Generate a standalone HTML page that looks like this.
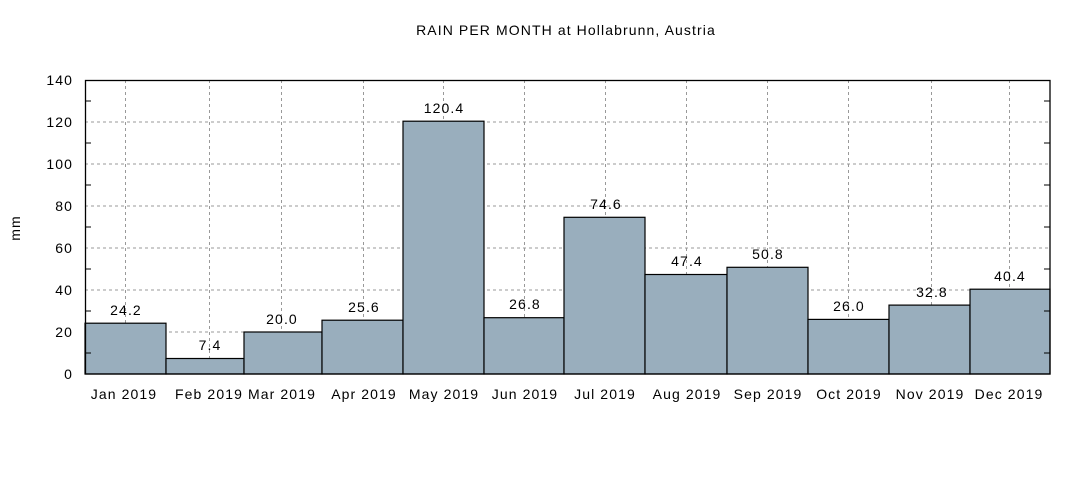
<!DOCTYPE html>
<html><head><style>body{margin:0;background:#fff}</style></head><body>
<svg width="1080" height="480" xmlns="http://www.w3.org/2000/svg" font-family="Liberation Sans, sans-serif" font-size="14" letter-spacing="1.1">
<rect width="1080" height="480" fill="#fff"/>
<text x="566" y="35" text-anchor="middle">RAIN PER MONTH at Hollabrunn, Austria</text>
<text transform="translate(20,228) rotate(-90)" text-anchor="middle">mm</text>
<g stroke="#999" stroke-dasharray="3,3" stroke-width="1">
<line x1="85" x2="1050" y1="332" y2="332"/><line x1="85" x2="1050" y1="290" y2="290"/>
<line x1="85" x2="1050" y1="248" y2="248"/><line x1="85" x2="1050" y1="206" y2="206"/>
<line x1="85" x2="1050" y1="164" y2="164"/><line x1="85" x2="1050" y1="122" y2="122"/>
<line x1="125.5" x2="125.5" y1="80" y2="374"/><line x1="209.5" x2="209.5" y1="80" y2="374"/>
<line x1="281.5" x2="281.5" y1="80" y2="374"/><line x1="363.5" x2="363.5" y1="80" y2="374"/>
<line x1="443.5" x2="443.5" y1="80" y2="374"/><line x1="524.5" x2="524.5" y1="80" y2="374"/>
<line x1="605.5" x2="605.5" y1="80" y2="374"/><line x1="686.5" x2="686.5" y1="80" y2="374"/>
<line x1="767.5" x2="767.5" y1="80" y2="374"/><line x1="848.5" x2="848.5" y1="80" y2="374"/>
<line x1="931.5" x2="931.5" y1="80" y2="374"/><line x1="1009.5" x2="1009.5" y1="80" y2="374"/>
</g>
<g fill="#99aebd" stroke="#000" stroke-width="1.2">
<rect x="85" y="323.2" width="81" height="50.8"/>
<rect x="166" y="358.5" width="78" height="15.5"/>
<rect x="244" y="332" width="78" height="42"/>
<rect x="322" y="320.2" width="81" height="53.8"/>
<rect x="403" y="121.2" width="81" height="252.8"/>
<rect x="484" y="317.7" width="80" height="56.3"/>
<rect x="564" y="217.3" width="81" height="156.7"/>
<rect x="645" y="274.5" width="82" height="99.5"/>
<rect x="727" y="267.3" width="81" height="106.7"/>
<rect x="808" y="319.4" width="81" height="54.6"/>
<rect x="889" y="305.1" width="81" height="68.9"/>
<rect x="970" y="289.2" width="80" height="84.8"/>
</g>
<g stroke="#000" stroke-width="1">
<line x1="85" x2="91" y1="353" y2="353"/><line x1="85" x2="91" y1="311" y2="311"/><line x1="85" x2="91" y1="269" y2="269"/><line x1="85" x2="91" y1="227" y2="227"/><line x1="85" x2="91" y1="185" y2="185"/><line x1="85" x2="91" y1="143" y2="143"/><line x1="85" x2="91" y1="101" y2="101"/>
<line x1="1044" x2="1050" y1="353" y2="353"/><line x1="1044" x2="1050" y1="311" y2="311"/><line x1="1044" x2="1050" y1="269" y2="269"/><line x1="1044" x2="1050" y1="227" y2="227"/><line x1="1044" x2="1050" y1="185" y2="185"/><line x1="1044" x2="1050" y1="143" y2="143"/><line x1="1044" x2="1050" y1="101" y2="101"/>
</g>
<rect x="85.5" y="80.5" width="964.5" height="293.5" fill="none" stroke="#000" stroke-width="1.3"/>
<g text-anchor="end">
<text x="73" y="379">0</text><text x="73" y="337">20</text><text x="73" y="295">40</text><text x="73" y="253">60</text><text x="73" y="211">80</text><text x="73" y="169">100</text><text x="73" y="127">120</text><text x="73" y="85">140</text>
</g>
<g text-anchor="middle">
<text x="124" y="399">Jan 2019</text><text x="209" y="399">Feb 2019</text><text x="282" y="399">Mar 2019</text><text x="364" y="399">Apr 2019</text><text x="444" y="399">May 2019</text><text x="525" y="399">Jun 2019</text><text x="605" y="399">Jul 2019</text><text x="687" y="399">Aug 2019</text><text x="768" y="399">Sep 2019</text><text x="849" y="399">Oct 2019</text><text x="930" y="399">Nov 2019</text><text x="1009" y="399">Dec 2019</text>
<text x="126" y="315">24.2</text><text x="210" y="350">7.4</text><text x="282" y="324">20.0</text><text x="364" y="312">25.6</text><text x="444" y="113">120.4</text><text x="525" y="309">26.8</text><text x="606" y="209">74.6</text><text x="687" y="266">47.4</text><text x="768" y="259">50.8</text><text x="849" y="311">26.0</text><text x="932" y="297">32.8</text><text x="1010" y="281">40.4</text>
</g>
</svg>
</body></html>
